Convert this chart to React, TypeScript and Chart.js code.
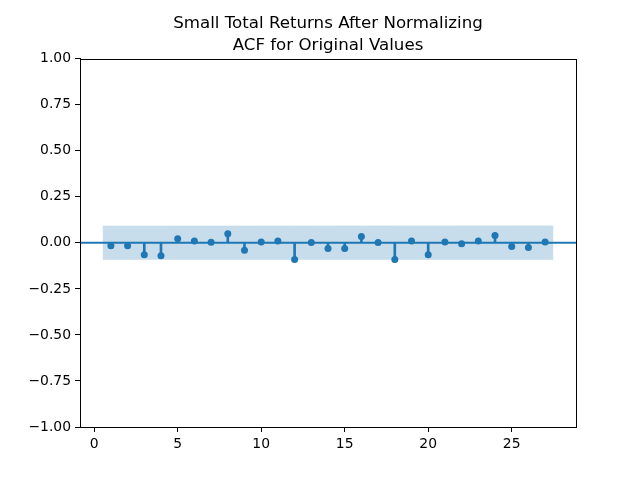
import React, { useEffect, useRef } from "react";
import { Chart, registerables } from "chart.js";

Chart.register(...registerables);

const titleLines = ["Small Total Returns After Normalizing", "ACF for Original Values"];
const lags = [1, 2, 3, 4, 5, 6, 7, 8, 9, 10, 11, 12, 13, 14, 15, 16, 17, 18, 19, 20, 21, 22, 23, 24, 25, 26, 27];
const acfValues = [
  -0.016, -0.016, -0.065, -0.07, 0.022, 0.01, 0.004, 0.05, -0.04, 0.005, 0.01, -0.09, 0.002, -0.03,
  -0.03, 0.035, 0.002, -0.09, 0.01, -0.065, 0.005, -0.005, 0.01, 0.04, -0.02, -0.025, 0.005,
];
const bandLags = [0.5, 27.5];
const bandUpper = [0.093, 0.094];
const bandLower = [-0.091, -0.092];
const xTicks = [0, 5, 10, 15, 20, 25];
const yTicks = [-1, -0.75, -0.5, -0.25, 0, 0.25, 0.5, 0.75, 1];
const xRange = [-0.85, 28.85];

const BLUE = "#1f77b4";
const FONT = "DejaVu Sans";

export default function App() {
  const ref = useRef<HTMLCanvasElement>(null);
  useEffect(() => {
    if (!ref.current) return;
    const framePlugin = {
      id: "frame",
      afterDraw(chart: any) {
        const { ctx, chartArea } = chart;
        ctx.save();
        ctx.strokeStyle = "#000";
        ctx.lineWidth = 1;
        ctx.strokeRect(
          Math.round(chartArea.left) + 0.5,
          Math.round(chartArea.top) + 0.5,
          Math.round(chartArea.right - chartArea.left),
          Math.round(chartArea.bottom - chartArea.top)
        );
        ctx.restore();
      },
    };
    const chart = new Chart(ref.current, {
      type: "scatter",
      data: {
        datasets: [
          {
            type: "scatter",
            data: lags.map((l, i) => ({ x: l, y: acfValues[i] })),
            pointRadius: 3.5,
            pointBackgroundColor: BLUE,
            pointBorderWidth: 0,
            order: 0,
          } as any,
          {
            type: "line",
            data: [
              { x: xRange[0], y: 0 },
              { x: xRange[1], y: 0 },
            ],
            borderColor: BLUE,
            borderWidth: 2,
            pointRadius: 0,
            order: 1,
          } as any,
          {
            type: "bar",
            data: lags.map((l, i) => ({ x: l, y: [0, acfValues[i]] })),
            backgroundColor: BLUE,
            barThickness: 2,
            borderWidth: 0,
            order: 2,
          } as any,
          {
            type: "line",
            data: bandLags.map((l, i) => ({ x: l, y: bandUpper[i] })),
            borderWidth: 0,
            pointRadius: 0,
            fill: "+1",
            backgroundColor: "rgba(31,119,180,0.25)",
            order: 3,
          } as any,
          {
            type: "line",
            data: bandLags.map((l, i) => ({ x: l, y: bandLower[i] })),
            borderWidth: 0,
            pointRadius: 0,
            fill: false,
            order: 4,
          } as any,
        ],
      },
      options: {
        responsive: false,
        animation: false,
        layout: { padding: { left: 0, right: 64, top: 0, bottom: 0 } },
        plugins: {
          legend: { display: false },
          tooltip: { enabled: false },
          title: {
            display: true,
            text: titleLines,
            color: "#000",
            fullSize: false,
            font: { family: FONT, size: 16.67, weight: "normal", lineHeight: 1.3 },
            padding: { top: 13, bottom: 2.4 },
          },
        },
        scales: {
          x: {
            type: "linear",
            min: xRange[0],
            max: xRange[1],
            offset: false,
            afterBuildTicks: (s: any) => {
              s.ticks = xTicks.map((v) => ({ value: v }));
            },
            afterFit: (s: any) => {
              s.height = 53;
            },
            grid: { display: true, offset: false, drawOnChartArea: false, drawTicks: true, tickLength: 5, color: "#000" },
            border: { display: true, color: "#000" },
            ticks: {
              color: "#000",
              padding: 4,
              maxRotation: 0,
              autoSkip: false,
              font: { family: FONT, size: 13.9 },
              callback: (v: any) => String(v),
            },
          },
          y: {
            type: "linear",
            min: -1,
            max: 1,
            afterBuildTicks: (s: any) => {
              s.ticks = yTicks.map((v) => ({ value: v }));
            },
            afterFit: (s: any) => {
              s.width = 80;
            },
            grid: { display: true, offset: false, drawOnChartArea: false, drawTicks: true, tickLength: 5, color: "#000" },
            border: { display: true, color: "#000" },
            ticks: {
              color: "#000",
              padding: 4,
              autoSkip: false,
              font: { family: FONT, size: 13.9 },
              callback: (v: any) => (v < 0 ? "\u2212" + Math.abs(v).toFixed(2) : Number(v).toFixed(2)),
            },
          },
        },
      },
      plugins: [framePlugin],
    } as any);
    return () => chart.destroy();
  }, []);
  return (
    <div style={{ position: "fixed", left: 0, top: 0, width: 640, height: 480, background: "#fff" }}>
      <canvas ref={ref} width={640} height={480} />
    </div>
  );
}
